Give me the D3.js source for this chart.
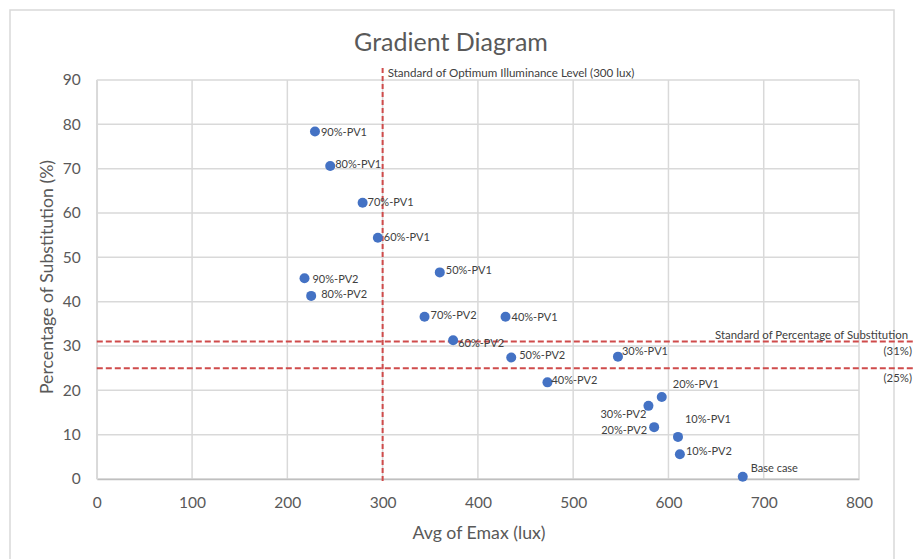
<!DOCTYPE html>
<html>
<head>
<meta charset="utf-8">
<script src="https://cdn.jsdelivr.net/npm/d3@7"></script>
<style>
  html, body { margin: 0; padding: 0; background: #fff; }
  svg { display: block; font-family: Lato, "Open Sans", sans-serif; }
</style>
</head>
<body>
<svg id="chart" width="914" height="559"></svg>
<script>
// ---- data ----
const labels = ["90%-PV1","80%-PV1","70%-PV1","60%-PV1","50%-PV1","90%-PV2","80%-PV2","70%-PV2","40%-PV1","60%-PV2","50%-PV2","30%-PV1","40%-PV2","20%-PV1","30%-PV2","20%-PV2","10%-PV1","10%-PV2","Base case"];
const emax = [229, 245, 279, 295, 360, 218, 225, 344, 429, 374, 435, 547, 473, 593, 579, 585, 610, 612, 678];
const substitution = [78.4, 70.6, 62.3, 54.4, 46.6, 45.3, 41.3, 36.6, 36.6, 31.3, 27.4, 27.6, 21.8, 18.5, 16.5, 11.7, 9.5, 5.6, 0.5];
const xTicks = [0, 100, 200, 300, 400, 500, 600, 700, 800];
const yTicks = [0, 10, 20, 30, 40, 50, 60, 70, 80, 90];
const illuminanceStandard = 300;
const substitutionStandards = [31, 25];
const substitutionStandardLabels = ["(31%)", "(25%)"];

// label placement (layout only)
const labelDx = [6, 5, 5, 6, 6, 8, 10, 6, 6, 5, 8, 4, 4, 11, -2, -7, 7, 6, 8];
const labelDy = [0, -3, -1, -1, -3, 0, -2, -2, 0, 2, -3, -6, -3, -13, 8, 2, -18, -4, -9];
const labelAnchor = labels.map((d, i) => (i === 14 || i === 15) ? "end" : "start");

// ---- layout ----
const svg = d3.select("#chart");
const pLeft = 96.8, pRight = 859, pTop = 80, pBottom = 479;
const x = d3.scaleLinear().domain([0, 800]).range([pLeft, pRight]);
const y = d3.scaleLinear().domain([0, 90]).range([pBottom, pTop]);

// chart border
svg.append("rect").attr("x", 10).attr("y", 10).attr("width", 884).attr("height", 600)
  .attr("fill", "#fff").attr("stroke", "#d9d9d9").attr("stroke-width", 1.5);

// title
svg.append("text").attr("x", 451).attr("y", 41).attr("text-anchor", "middle")
  .attr("dominant-baseline", "central").attr("font-size", 25).attr("fill", "#595959")
  .text("Gradient Diagram");

// grid
const grid = svg.append("g");
grid.selectAll("line.v").data(xTicks).join("line")
  .attr("x1", d => x(d)).attr("x2", d => x(d)).attr("y1", pTop).attr("y2", pBottom)
  .attr("stroke", "#d9d9d9").attr("stroke-width", 1.5);
grid.selectAll("line.h").data(yTicks).join("line")
  .attr("x1", pLeft).attr("x2", pRight).attr("y1", d => y(d)).attr("y2", d => y(d))
  .attr("stroke", "#d9d9d9").attr("stroke-width", 1.5);

// axes (D3 axes, styled)
const xAxis = svg.append("g").attr("transform", `translate(0,${pBottom})`)
  .call(d3.axisBottom(x).tickValues(xTicks).tickSize(0).tickPadding(18));
const yAxis = svg.append("g").attr("transform", `translate(${pLeft},0)`)
  .call(d3.axisLeft(y).tickValues(yTicks).tickSize(0).tickPadding(16));
[xAxis, yAxis].forEach(a => {
  a.select(".domain").attr("stroke", "#bfbfbf").attr("stroke-width", 1.5);
  a.selectAll("text").attr("font-size", 15.5).attr("fill", "#595959")
    .attr("font-family", "Lato, 'Open Sans', sans-serif");
});
yAxis.select(".domain").attr("stroke", "#d9d9d9");

// axis titles
svg.append("text").attr("x", 479).attr("y", 532).attr("text-anchor", "middle")
  .attr("dominant-baseline", "central").attr("font-size", 17.7).attr("fill", "#595959")
  .text("Avg of Emax (lux)");
svg.append("text").attr("transform", `translate(46,277) rotate(-90)`)
  .attr("text-anchor", "middle").attr("dominant-baseline", "central")
  .attr("font-size", 17.7).attr("fill", "#595959")
  .text("Percentage of Substitution (%)");

// standard lines
const red = "#cf4b4b";
svg.append("line").attr("x1", x(illuminanceStandard)).attr("x2", x(illuminanceStandard))
  .attr("y1", y(90) - 12).attr("y2", y(0) + 5)
  .attr("stroke", red).attr("stroke-width", 2).attr("stroke-dasharray", "5,3");
svg.append("text").attr("x", x(illuminanceStandard) + 5).attr("y", 72)
  .attr("dominant-baseline", "central").attr("font-size", 11.6).attr("fill", "#404040")
  .text("Standard of Optimum Illuminance Level (300 lux)");

svg.selectAll("line.std").data(substitutionStandards).join("line")
  .attr("x1", pLeft).attr("x2", 914).attr("y1", d => y(d)).attr("y2", d => y(d))
  .attr("stroke", red).attr("stroke-width", 2).attr("stroke-dasharray", "6,3");
svg.append("text").attr("x", 908).attr("y", y(substitutionStandards[0]) - 7)
  .attr("text-anchor", "end").attr("dominant-baseline", "central")
  .attr("font-size", 11.4).attr("fill", "#404040")
  .text("Standard of Percentage of Substitution");
svg.selectAll("text.stdlab").data(substitutionStandardLabels).join("text")
  .attr("x", 912).attr("y", (d, i) => y(substitutionStandards[i]) + 9)
  .attr("text-anchor", "end").attr("dominant-baseline", "central")
  .attr("font-size", 11.4).attr("fill", "#404040")
  .text(d => d);

// points
svg.selectAll("circle.pt").data(labels).join("circle")
  .attr("cx", (d, i) => x(emax[i])).attr("cy", (d, i) => y(substitution[i]))
  .attr("r", 5).attr("fill", "#4472c4");

// labels
svg.selectAll("text.pl").data(labels).join("text")
  .attr("x", (d, i) => x(emax[i]) + labelDx[i])
  .attr("y", (d, i) => y(substitution[i]) + labelDy[i])
  .attr("text-anchor", (d, i) => labelAnchor[i])
  .attr("dominant-baseline", "central")
  .attr("font-size", 11).attr("fill", "#404040")
  .text(d => d);
</script>
</body>
</html>
